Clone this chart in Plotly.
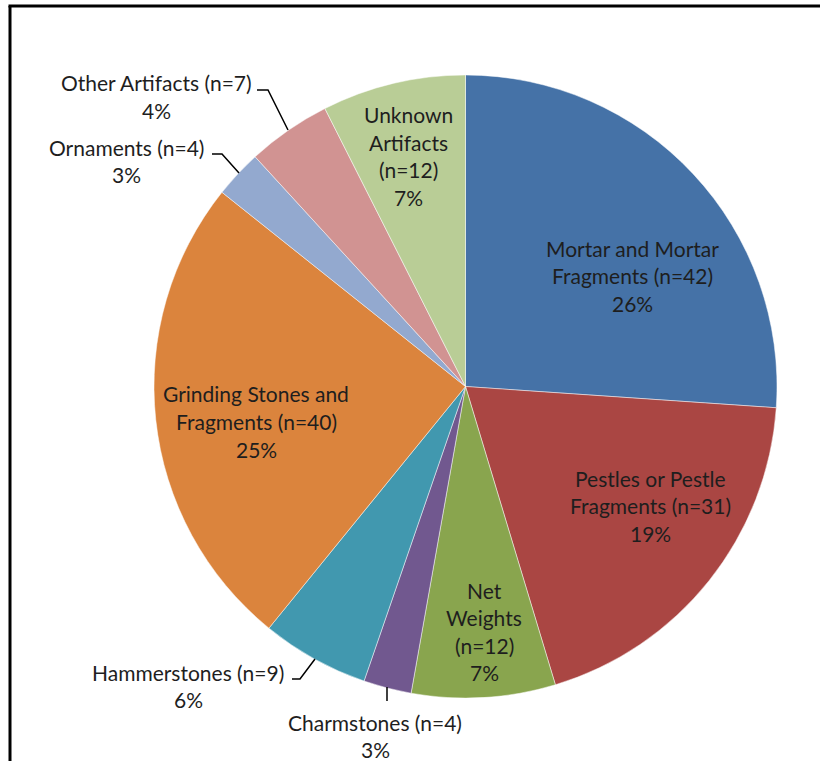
import textwrap
import plotly.graph_objects as go

# Artifact categories, counts and the rounded shares shown on the chart
categories = [
    "Mortar and Mortar Fragments",
    "Pestles or Pestle Fragments",
    "Net Weights",
    "Charmstones",
    "Hammerstones",
    "Grinding Stones and Fragments",
    "Ornaments",
    "Other Artifacts",
    "Unknown Artifacts",
]
counts = [42, 31, 12, 4, 9, 40, 4, 7, 12]
percents = [26, 19, 7, 3, 6, 25, 3, 4, 7]

colors = ["#4572A7", "#AA4643", "#89A54E", "#71588F", "#4198AF",
          "#DB843D", "#93A9CF", "#D19392", "#B9CD96"]

W, H = 820, 761


def px(x, y):
    """Convert pixel position (from top-left) to paper coordinates."""
    return x / W, 1 - y / H


# Pie circle: centre (465.5, 386.5), radius 311.5 px
cx, cy, r = 465.5, 386.5, 311.5
x0, y1 = px(cx - r, cy - r)
x1, y0 = px(cx + r, cy + r)

fig = go.Figure(go.Pie(
    labels=categories,
    values=counts,
    sort=False,
    direction="clockwise",
    rotation=0,
    textinfo="none",
    marker=dict(colors=colors, line=dict(color="rgba(255,255,255,0.6)", width=0.8)),
    domain=dict(x=[x0, x1], y=[y0, y1]),
    showlegend=False,
))

# Label placement: (centre x, first-line y, wrap width) in pixels
label_layout = [
    (632, 248, 17),
    (650, 478, 17),
    (484, 590, 7),
    (375, 722, 40),
    (188, 672, 40),
    (256, 394, 19),
    (126, 147, 40),
    (156, 83, 40),
    (408, 115, 9),
]
line_gap = 27.5

annotations = []
for name, n, pct, (lx, ly, wrap) in zip(categories, counts, percents, label_layout):
    lines = textwrap.wrap(f"{name} (n={n})", width=wrap) + [f"{pct}%"]
    for i, line in enumerate(lines):
        ax, ay = px(lx, ly + i * line_gap)
        annotations.append(dict(
            x=ax, y=ay, xref="paper", yref="paper",
            text=line, showarrow=False,
            xanchor="center", yanchor="middle",
            font=dict(family="Lato", size=21, color="#1e1e1e"),
        ))

# Leader lines for the small outside slices (pixel polylines)
leaders = [
    [(257, 90), (268, 90), (288, 130)],
    [(212, 154), (222, 154), (239, 173)],
    [(292, 679), (300, 679), (315, 659)],
    [(387, 687), (387, 701)],
]
shapes = []
for pts in leaders:
    p = [px(*q) for q in pts]
    path = "M " + " L ".join(f"{a:.5f},{b:.5f}" for a, b in p)
    shapes.append(dict(type="path", path=path, xref="paper", yref="paper",
                       line=dict(color="black", width=1.5)))

# Chart frame (top and left edges)
fx, fy = px(10, 6)
shapes.append(dict(type="line", xref="paper", yref="paper",
                   x0=fx - 1.5 / W, x1=1, y0=fy, y1=fy,
                   line=dict(color="black", width=3)))
shapes.append(dict(type="line", xref="paper", yref="paper",
                   x0=fx, x1=fx, y0=0, y1=fy,
                   line=dict(color="black", width=3)))

fig.update_layout(
    width=W, height=H,
    margin=dict(l=0, r=0, t=0, b=0),
    paper_bgcolor="white",
    plot_bgcolor="white",
    annotations=annotations,
    shapes=shapes,
)

fig.write_html("out.html")
